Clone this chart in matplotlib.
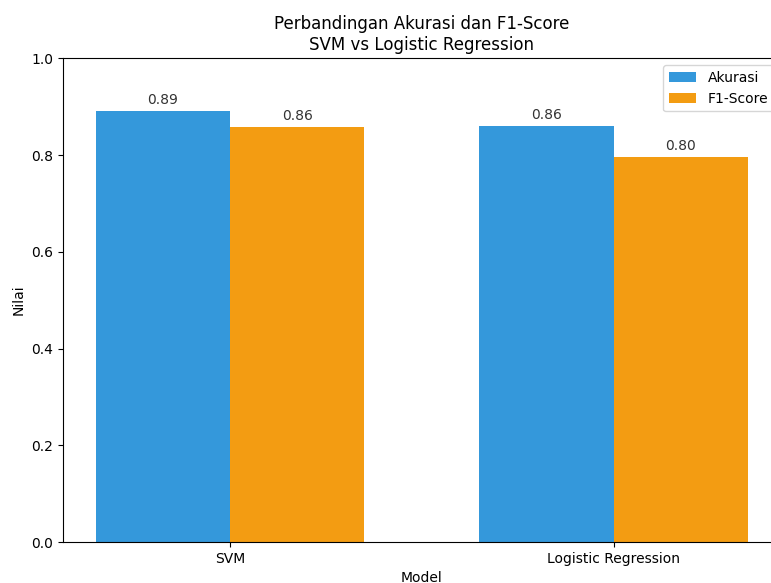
import numpy as np
import matplotlib
matplotlib.use("Agg")
import matplotlib.pyplot as plt

models = ["SVM", "Logistic Regression"]
akurasi = [0.891, 0.860]
f1_score = [0.858, 0.796]
series_names = ["Akurasi", "F1-Score"]
colors = ["#3498db", "#f39c12"]

fig = plt.figure(figsize=(7.71, 5.83), dpi=100)
# the source picture is cropped at the right, so the axes run past the edge
ax = fig.add_axes([0.0817, 0.0703, 0.9308, 0.8297])

x = np.arange(len(models))
width = 0.35

bars1 = ax.bar(x - width / 2, akurasi, width, label=series_names[0], color=colors[0])
bars2 = ax.bar(x + width / 2, f1_score, width, label=series_names[1], color=colors[1])

for bars in (bars1, bars2):
    for b in bars:
        h = b.get_height()
        ax.annotate(f"{h:.2f}", xy=(b.get_x() + b.get_width() / 2, h),
                    xytext=(0, 3), textcoords="offset points",
                    ha="center", va="bottom", fontsize=10, color="#333333")

ax.set_xticks(x)
ax.set_xticklabels(models)
ax.set_ylim(0, 1.0)
ax.set_xlabel("Model")
ax.set_ylabel("Nilai")
ax.set_title("Perbandingan Akurasi dan F1-Score\nSVM vs Logistic Regression")
ax.legend(loc="upper right")

fig.savefig("out.png", dpi=100)
